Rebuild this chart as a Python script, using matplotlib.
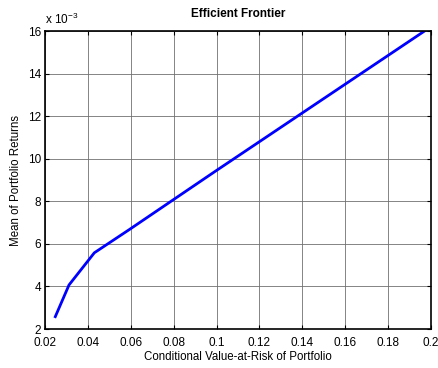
import matplotlib
matplotlib.use('Agg')
import matplotlib.pyplot as plt
from matplotlib.ticker import FuncFormatter, MultipleLocator

plt.rcParams['font.family'] = ['Liberation Sans', 'DejaVu Sans']
plt.rcParams['mathtext.fontset'] = 'custom'
plt.rcParams['mathtext.rm'] = 'Liberation Sans'

# frontier points
cvar = [0.0248, 0.0312, 0.0430, 0.0593, 0.1000, 0.1970]
mean_ret = [0.00258, 0.00407, 0.00558, 0.00667, 0.00945, 0.0160]

fig = plt.figure(figsize=(4.39, 3.68), dpi=100)
ax = fig.add_axes([45 / 439, 1 - 329 / 368, 386 / 439, 298 / 368])

ax.plot(cvar, mean_ret, color='#0000ff', linewidth=2)

ax.set_xlim(0.02, 0.2)
ax.set_ylim(0.002, 0.016)
ax.xaxis.set_major_locator(MultipleLocator(0.02))
ax.yaxis.set_major_locator(MultipleLocator(0.002))
ax.xaxis.set_major_formatter(FuncFormatter(lambda v, p: ('%.2f' % v).rstrip('0').rstrip('.')))
ax.yaxis.set_major_formatter(FuncFormatter(lambda v, p: '%d' % round(v * 1000)))

ax.grid(True, color='#707070', linewidth=0.6, linestyle='-')
ax.tick_params(direction='in', top=True, right=True, length=3, width=0.8,
               labelsize=8.5, colors='black')
ax.tick_params(axis='x', pad=6)
ax.tick_params(axis='y', pad=3)
for s in ax.spines.values():
    s.set_linewidth(1.2)

ax.set_title('Efficient Frontier', fontsize=8.5, fontweight='bold', pad=10)
ax.set_xlabel('Conditional Value-at-Risk of Portfolio', fontsize=8.3, labelpad=1)
ax.set_ylabel('Mean of Portfolio Returns', fontsize=8.3, labelpad=4)
ax.text(0.0, 1.012, r'x 10$^{-3}$', transform=ax.transAxes, fontsize=8.5,
        ha='left', va='bottom')

fig.savefig('out.png', dpi=100)
